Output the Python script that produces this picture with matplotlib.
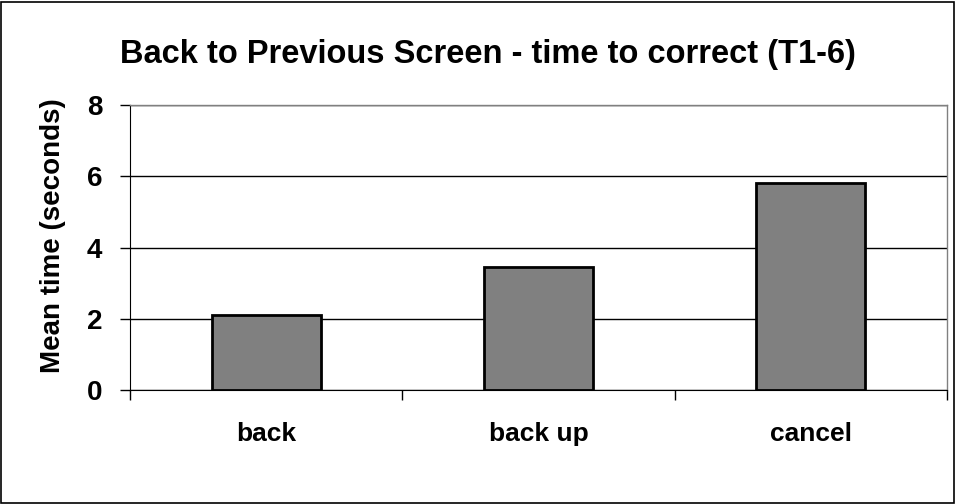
import matplotlib
matplotlib.use("Agg")
import matplotlib.pyplot as plt
import numpy as np

categories = ["back", "back up", "cancel"]
mean_times = [2.1, 3.45, 5.82]
y_ticks = [0, 2, 4, 6, 8]

plt.rcParams['font.family'] = ['Liberation Sans', 'DejaVu Sans']

W, H = 956, 504
fig = plt.figure(figsize=(W / 100, H / 100), dpi=100)
ax = fig.add_axes([130 / W, 1 - 390 / H, 817 / W, 285 / H])

x = np.arange(len(categories))
ax.bar(x, mean_times, width=0.4, color="#808080", edgecolor="black", linewidth=2, zorder=3)

ax.set_xlim(-0.5, len(categories) - 0.5)
ax.set_ylim(0, 8)
ax.set_yticks(y_ticks)
ax.set_yticklabels([str(t) for t in y_ticks], fontsize=20, fontweight="bold")
ax.set_xticks(x)
ax.set_xticklabels(categories, fontsize=19, fontweight="bold")
ax.tick_params(axis="x", length=0, pad=23)
ax.set_xticks(np.arange(-0.5, len(categories)), minor=True)
ax.tick_params(axis="x", which="minor", length=7, direction="out", width=1, color="black")
ax.tick_params(axis="y", length=7, direction="out", width=1, pad=13)

ax.yaxis.grid(True, color="black", linewidth=1, zorder=0)
ax.set_axisbelow(True)

for s in ["top", "right"]:
    ax.spines[s].set_color("#808080")
    ax.spines[s].set_linewidth(1)
ax.spines["left"].set_color("black")
ax.spines["bottom"].set_color("black")

fig.text(53 / W, 1 - 236 / H, "Mean time (seconds)", rotation=90,
         ha="center", va="center", fontsize=20, fontweight="bold")
fig.text(487.5 / W, 1 - 63 / H, "Back to Previous Screen - time to correct (T1-6)",
         ha="center", va="baseline", fontsize=23.5, fontweight="bold")

border = plt.Rectangle((0.001, 0.001), 0.997, 0.996, transform=fig.transFigure,
                       fill=False, edgecolor="black", linewidth=1.2)
fig.add_artist(border)

fig.savefig("out.png", dpi=100)
